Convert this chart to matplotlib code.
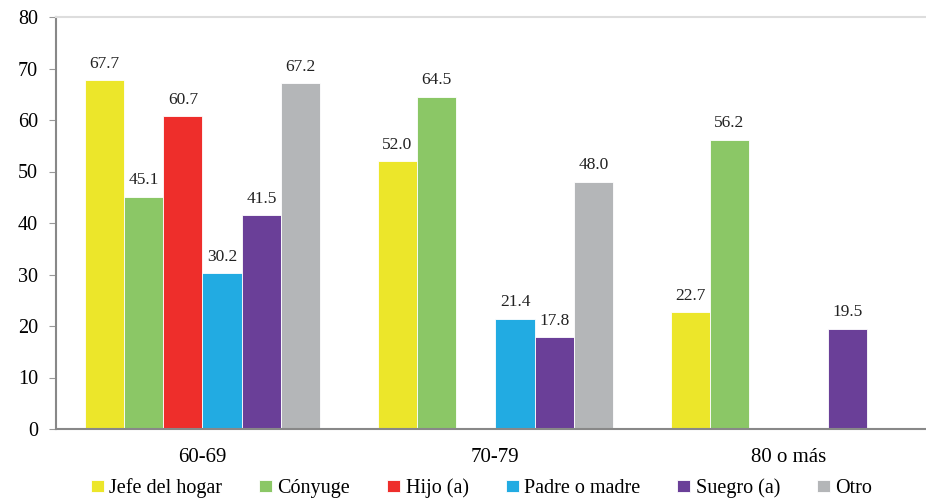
import numpy as np
import matplotlib
matplotlib.use("Agg")
import matplotlib.pyplot as plt

plt.rcParams['font.family'] = ['Liberation Serif', 'DejaVu Serif']

categories = ["60-69", "70-79", "80 o más"]
series_names = ["Jefe del hogar", "Cónyuge", "Hijo (a)", "Padre o madre", "Suegro (a)", "Otro"]
jefe = [67.7, 52.0, 22.7]
conyuge = [45.1, 64.5, 56.2]
hijo = [60.7, np.nan, np.nan]
padre = [30.2, 21.4, np.nan]
suegro = [41.5, 17.8, 19.5]
otro = [67.2, 48.0, np.nan]
y_ticks = [0, 10, 20, 30, 40, 50, 60, 70, 80]

series_values = [jefe, conyuge, hijo, padre, suegro, otro]
colors = ["#ECE62A", "#8BC766", "#EE2E2B", "#22ABE2", "#6A3F98", "#B4B6B8"]

fig = plt.figure(figsize=(9.26, 5.0), dpi=100)
ax = fig.add_axes([0.0605, 0.142, 0.949, 0.824])

x = np.arange(len(categories))
width = 0.134
n = len(series_names)
for i, (name, vals, col) in enumerate(zip(series_names, series_values, colors)):
    offs = (i - (n - 1) / 2) * width
    vals = np.array(vals, dtype=float)
    ax.bar(x + offs, np.nan_to_num(vals), width, color=col, edgecolor='white',
           linewidth=0.6, label=name)
    for xi, v in zip(x, vals):
        if not np.isnan(v):
            ax.annotate(f"{v:.1f}", (xi + offs, v), xytext=(0, 6),
                        textcoords='offset points', ha='center', va='bottom',
                        fontsize=12.5, color='#222222')

ax.set_xlim(-0.5, 2.5)
ax.set_ylim(0, 80)
ax.set_yticks(y_ticks)
ax.set_xticks(x)
ax.set_xticklabels(categories, fontsize=15)
ax.tick_params(axis='y', labelsize=14.5, length=5, color='#999999', direction='out', pad=8)
ax.tick_params(axis='x', length=0, pad=14)

for s in ['left', 'bottom']:
    ax.spines[s].set_color('#888888')
    ax.spines[s].set_linewidth(1.5)
ax.spines['right'].set_visible(False)
ax.spines['top'].set_color('#dddddd')
ax.spines['top'].set_linewidth(1.5)

leg = fig.legend(loc='center', bbox_to_anchor=(0.52, 0.024), ncol=6,
                 frameon=False, fontsize=14.5, handlelength=0.65, handleheight=0.55,
                 handletextpad=0.25, columnspacing=1.85, borderpad=0)

fig.savefig("out.png", dpi=100)
